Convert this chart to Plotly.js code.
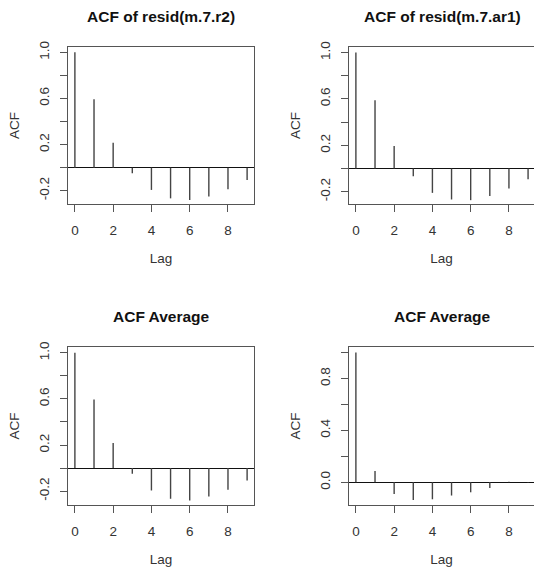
<!DOCTYPE html>
<html>
<head>
<meta charset="utf-8">
<script src="https://cdn.plot.ly/plotly-3.0.1.min.js"></script>
<style>html,body{margin:0;padding:0;background:#fff;}#plot{width:534px;height:567px;}</style>
</head>
<body>
<div id="plot"></div>
<script>
// ---- data ----
const lags = [0, 1, 2, 3, 4, 5, 6, 7, 8, 9];
const acfR2 = [1, 0.593, 0.217, -0.049, -0.193, -0.266, -0.280, -0.251, -0.187, -0.107];
const acfAr1 = [1, 0.589, 0.195, -0.066, -0.210, -0.267, -0.273, -0.236, -0.172, -0.092];
const acfAvgA = [1, 0.595, 0.217, -0.049, -0.194, -0.266, -0.280, -0.246, -0.188, -0.107];
const acfAvgB = [1, 0.087, -0.090, -0.136, -0.131, -0.102, -0.077, -0.043, 0.004, -0.003];
const titles = ["ACF of resid(m.7.r2)", "ACF of resid(m.7.ar1)", "ACF Average", "ACF Average"];
const xTickVals = [0, 2, 4, 6, 8];
const xTickText = ["0", "2", "4", "6", "8"];
const yTickValsA = [-0.2, 0, 0.2, 0.4, 0.6, 0.8, 1.0];
const yTickTextA = ["-0.2", "", "0.2", "", "0.6", "", "1.0"];
const yTickValsB = [0, 0.2, 0.4, 0.6, 0.8, 1.0];
const yTickTextB = ["0.0", "", "0.4", "", "0.8", ""];

function spikes(vals, ax) {
  const x = [], y = [];
  lags.forEach((l, i) => { x.push(l, l, null); y.push(0, vals[i], null); });
  return {x, y, type: 'scatter', mode: 'lines', xaxis: 'x' + ax, yaxis: 'y' + ax,
          line: {color: '#444', width: 1.4}, hoverinfo: 'skip', showlegend: false};
}

const W = 534, H = 567;
const leftX = [68 / W, 254 / W];
const rightX = [349 / W, 1];
const topY = [1 - 204 / H, 1 - 47 / H];
const botY = [1 - 505 / H, 1 - 347 / H];

const fontFam = '"Liberation Sans", Arial, Helvetica, sans-serif';
const lblSize = 13.5;

function xaxis(dom, rng, anchor) {
  return {domain: dom, range: rng, anchor: anchor, showgrid: false, zeroline: false,
          showline: true, mirror: true, linecolor: '#555', linewidth: 1,
          ticks: 'outside', ticklen: 7, tickwidth: 1, tickcolor: '#555',
          ticklabelstandoff: 7,
          tickmode: 'array', tickvals: xTickVals, ticktext: xTickText,
          tickfont: {family: fontFam, size: lblSize, color: '#333'},
          title: {text: 'Lag', font: {family: fontFam, size: lblSize, color: '#333'}, standoff: 16}};
}
function yaxis(dom, rng, anchor, tv, tt) {
  return {domain: dom, range: rng, anchor: anchor, showgrid: false,
          zeroline: true, zerolinecolor: '#111', zerolinewidth: 1,
          showline: true, mirror: true, linecolor: '#555', linewidth: 1,
          ticks: 'outside', ticklen: 7, tickwidth: 1, tickcolor: '#555',
          ticklabelstandoff: 6,
          tickmode: 'array', tickvals: tv, ticktext: tt, tickangle: -90,
          tickfont: {family: fontFam, size: lblSize, color: '#333'},
          title: {text: 'ACF', font: {family: fontFam, size: lblSize, color: '#333'}, standoff: 13}};
}

const data = [spikes(acfR2, ''), spikes(acfAr1, '2'), spikes(acfAvgA, '3'), spikes(acfAvgB, '4')];

const titlePos = [[161 / W, 1 - 17 / H], [442 / W, 1 - 17 / H], [161 / W, 1 - 316.5 / H], [442 / W, 1 - 316.5 / H]];
const annotations = titles.map((t, i) => ({
  text: '<b>' + t + '</b>', xref: 'paper', yref: 'paper', x: titlePos[i][0], y: titlePos[i][1],
  xanchor: 'center', yanchor: 'middle', showarrow: false,
  font: {family: fontFam, size: 15.5, color: '#111'}
}));

const layout = {
  width: W, height: H, margin: {l: 0, r: 0, t: 0, b: 0},
  paper_bgcolor: '#fff', plot_bgcolor: '#fff', showlegend: false,
  xaxis: xaxis(leftX, [-0.36, 9.36], 'y'),
  yaxis: yaxis(topY, [-0.315, 1.046], 'x', yTickValsA, yTickTextA),
  xaxis2: xaxis(rightX, [-0.36, 9.31], 'y2'),
  yaxis2: yaxis(topY, [-0.306, 1.048], 'x2', yTickValsA, yTickTextA),
  xaxis3: xaxis(leftX, [-0.36, 9.36], 'y3'),
  yaxis3: yaxis(botY, [-0.32, 1.05], 'x3', yTickValsA, yTickTextA),
  xaxis4: xaxis(rightX, [-0.36, 9.31], 'y4'),
  yaxis4: yaxis(botY, [-0.175, 1.043], 'x4', yTickValsB, yTickTextB),
  annotations: annotations
};

Plotly.newPlot('plot', data, layout, {displayModeBar: false, staticPlot: true});
</script>
</body>
</html>
